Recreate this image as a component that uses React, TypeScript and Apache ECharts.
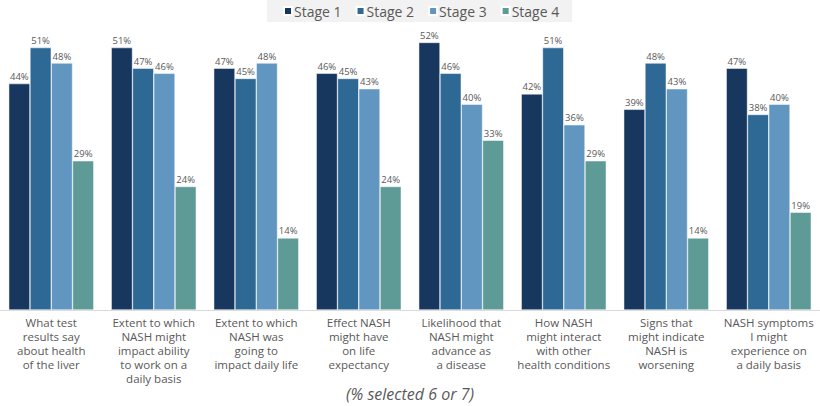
import React, { useEffect, useRef } from "react";
import * as echarts from "echarts";

const categories = [
  "What test\nresults say\nabout health\nof the liver",
  "Extent to which\nNASH might\nimpact ability\nto work on a\ndaily basis",
  "Extent to which\nNASH was\ngoing to\nimpact daily life",
  "Effect NASH\nmight have\non life\nexpectancy",
  "Likelihood that\nNASH might\nadvance as\na disease",
  "How NASH\nmight interact\nwith other\nhealth conditions",
  "Signs that\nmight indicate\nNASH is\nworsening",
  "NASH symptoms\nI might\nexperience on\na daily basis",
];

const seriesNames = ["Stage 1", "Stage 2", "Stage 3", "Stage 4"];
const stage1 = [44, 51, 47, 46, 52, 42, 39, 47];
const stage2 = [51, 47, 45, 45, 46, 51, 48, 38];
const stage3 = [48, 46, 48, 43, 40, 36, 43, 40];
const stage4 = [29, 24, 14, 24, 33, 29, 14, 19];
const colors = ["#17375e", "#2e6895", "#6196c0", "#5e9b97"];
const caption = "(% selected 6 or 7)";

const FONT = "'Open Sans', 'DejaVu Sans', sans-serif";

export default function App() {
  const ref = useRef<HTMLDivElement>(null);
  useEffect(() => {
    if (!ref.current) return;
    const chart = echarts.init(ref.current, undefined, { renderer: "svg" });
    const data = [stage1, stage2, stage3, stage4];
    chart.setOption({
      animation: false,
      textStyle: { fontFamily: FONT },
      legend: {
        left: 267,
        top: 0,
        backgroundColor: "#f2f2f2",
        padding: [4, 13, 4, 16],
        itemWidth: 8,
        itemHeight: 8,
        itemGap: 14,
        icon: "rect",
        data: seriesNames,
        textStyle: { fontSize: 14, color: "#595959", fontFamily: FONT, padding: [0, 0, 0, -3] },
      },
      grid: { left: 0, right: 0, top: 27, bottom: 96, containLabel: false },
      xAxis: {
        type: "category",
        data: categories,
        axisLine: { show: true, lineStyle: { color: "#d9d9d9", width: 1 } },
        axisTick: { show: false },
        axisLabel: {
          interval: 0,
          fontSize: 11.5,
          lineHeight: 14,
          color: "#595959",
          margin: 5,
          fontFamily: FONT,
        },
      },
      yAxis: {
        type: "value",
        min: 0,
        max: 55,
        show: false,
        splitLine: { show: false },
      },
      series: data.map((d, i) => ({
        name: seriesNames[i],
        type: "bar",
        data: d,
        barGap: "0%",
        barCategoryGap: "17%",
        itemStyle: { color: colors[i], borderColor: "#ffffff", borderWidth: 0.5 },
        label: {
          show: true,
          position: "top",
          distance: 2,
          formatter: "{c}%",
          fontSize: 9.5,
          color: "#595959",
          fontFamily: FONT,
        },
      })),
      graphic: [
        {
          type: "text",
          left: "center",
          top: 386,
          style: {
            text: caption,
            fontSize: 16,
            fontStyle: "italic",
            fill: "#595959",
            fontFamily: FONT,
          },
        },
      ],
    });
    return () => chart.dispose();
  }, []);
  return (
    <div
      ref={ref}
      style={{ position: "fixed", left: 0, top: 0, width: 820, height: 406, background: "#ffffff" }}
    />
  );
}
